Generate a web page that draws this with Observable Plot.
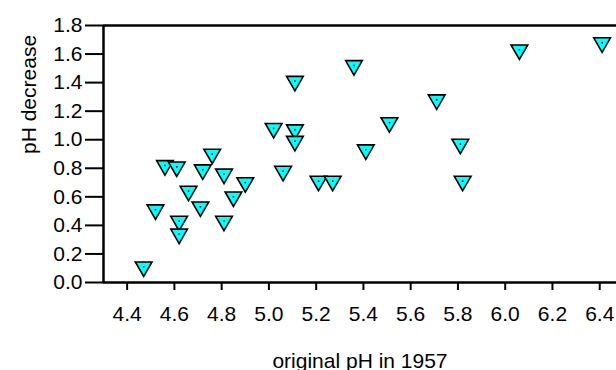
<!DOCTYPE html>
<html><head><meta charset="utf-8">
<script src="https://cdn.jsdelivr.net/npm/d3@7"></script>
<script src="https://cdn.jsdelivr.net/npm/@observablehq/plot@0.6"></script>
<style>
html,body{margin:0;padding:0;background:#fff;}
</style>
</head><body>
<div id="chart"></div>
<script>
const originalPH = [4.47,4.52,4.56,4.61,4.62,4.62,4.66,4.72,4.71,4.76,4.81,4.81,4.85,4.90,5.02,5.06,5.11,5.11,5.11,5.21,5.27,5.36,5.41,5.51,5.71,5.81,5.82,6.06,6.41];
const phDecrease = [0.11,0.51,0.82,0.81,0.43,0.34,0.64,0.79,0.53,0.90,0.76,0.43,0.60,0.70,1.08,0.78,1.41,1.07,0.99,0.71,0.71,1.52,0.93,1.12,1.28,0.97,0.71,1.63,1.68];
const xTicks = [4.4,4.6,4.8,5.0,5.2,5.4,5.6,5.8,6.0,6.2,6.4];
const yTicks = [0,0.2,0.4,0.6,0.8,1.0,1.2,1.4,1.6,1.8];
const xDomain = [4.3, 6.471];
const yDomain = [0, 1.8];
const xTitle = "original pH in 1957";
const yTitle = "pH decrease";

const data = originalPH.map((x, i) => ({x, y: phDecrease[i]}));

const chart = Plot.plot({
  width: 616,
  height: 370,
  marginLeft: 103,
  marginRight: 0,
  marginTop: 25,
  marginBottom: 88,
  style: {fontFamily: "'Liberation Sans', Arial, sans-serif", fontSize: "21px", color: "#000", background: "#fff"},
  x: {domain: xDomain},
  y: {domain: yDomain},
  marks: [
    Plot.axisX({ticks: xTicks, tickFormat: d3.format(".1f"), tickSize: 8, tickPadding: 16, strokeWidth: 2, fontSize: 21, label: null}),
    Plot.axisY({ticks: yTicks, tickFormat: d3.format(".1f"), tickSize: 18, tickPadding: 3, strokeWidth: 2, fontSize: 21, label: null}),
    Plot.ruleY([yDomain[0]], {stroke: "#000", strokeWidth: 2.5}),
    Plot.ruleY([yDomain[1]], {stroke: "#000", strokeWidth: 2.5}),
    Plot.ruleX([xDomain[0]], {stroke: "#000", strokeWidth: 2.5}),
    Plot.dot(data, {x: "x", y: "y", symbol: "triangle", rotate: 180, r: 6.2, fill: "#00ffff", stroke: "#000", strokeWidth: 1.6}),
    Plot.dot(data, {x: "x", y: "y", r: 0.9, fill: "#000", stroke: null}),
    Plot.text([xTitle], {frameAnchor: "bottom", lineAnchor: "bottom", dy: 85, fontSize: 21, fill: "#000"}),
    Plot.text([yTitle], {frameAnchor: "left", lineAnchor: "middle", dx: -74, rotate: -90, fontSize: 21, fill: "#000"})
  ]
});
document.getElementById("chart").appendChild(chart);
</script>
</body></html>
